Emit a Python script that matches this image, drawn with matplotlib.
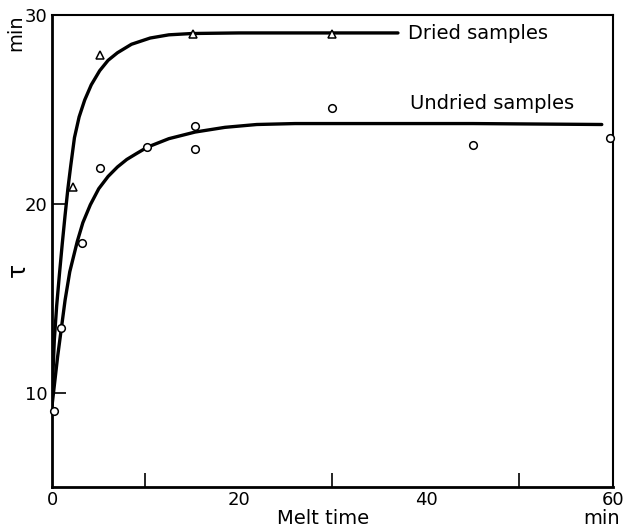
import numpy as np
import matplotlib
matplotlib.use('Agg')
import matplotlib.pyplot as plt

# measured points
dried_x = [2.2, 5.1, 15.1, 30.0]
dried_y = [20.9, 27.9, 29.0, 29.0]
undried_x = [0.2, 1.0, 3.2, 5.1, 10.2, 15.3, 15.3, 30.0, 45.0, 59.7]
undried_y = [9.0, 13.4, 17.9, 21.9, 23.0, 24.1, 22.9, 25.1, 23.1, 23.5]

# hand-drawn curves
dried_curve_x = [0, 0.1, 0.25, 0.5, 0.8, 1.1, 1.4, 1.7, 2.0, 2.4, 2.9, 3.5, 4.2,
                 5.1, 6.0, 7.0, 8.5, 10.5, 12.5, 15, 20, 30, 37]
dried_curve_y = [9.8, 11.0, 12.8, 14.6, 16.3, 17.9, 19.4, 20.8, 22.0, 23.5, 24.6,
                 25.5, 26.3, 27.05, 27.6, 28.0, 28.45, 28.78, 28.95, 29.02, 29.05,
                 29.05, 29.05]
undried_curve_x = [0, 0.3, 0.6, 1.0, 1.4, 1.9, 2.7, 3.3, 4.1, 5.0, 6.0, 7.0, 8.0,
                   9.0, 10.2, 12.5, 15.3, 18.5, 21.9, 26, 34, 45, 58.8]
undried_curve_y = [9.3, 10.6, 11.9, 13.4, 14.9, 16.4, 18.0, 19.0, 19.95, 20.8,
                   21.45, 21.95, 22.35, 22.65, 23.0, 23.45, 23.8, 24.05, 24.2,
                   24.25, 24.25, 24.25, 24.2]

x_major = [0, 20, 40, 60]
x_minor = [10, 30, 50]
y_major = [10, 20, 30]

fig = plt.figure(figsize=(6.25, 5.3), dpi=100)
ax = fig.add_axes([52/625, 1 - 487/530, (613-52)/625, (487-15)/530])

ax.plot(dried_curve_x, dried_curve_y, color='black', lw=2.4,
        solid_capstyle='round', solid_joinstyle='round')
ax.plot(undried_curve_x, undried_curve_y, color='black', lw=2.4,
        solid_capstyle='round', solid_joinstyle='round')
ax.plot(dried_x, dried_y, linestyle='none', marker='^', ms=6, mfc='white',
        mec='black', mew=1.1, clip_on=False, zorder=3)
ax.plot(undried_x, undried_y, linestyle='none', marker='o', ms=5.5, mfc='white',
        mec='black', mew=1.1, clip_on=False, zorder=3)

ax.set_xlim(0, 60)
ax.set_ylim(5, 30)
ax.set_xticks(x_major)
ax.set_xticks(x_minor, minor=True)
ax.set_yticks(y_major)
ax.tick_params(which='both', direction='in', length=10, width=1.2,
               labelsize=13, pad=3)
for t in ax.xaxis.get_major_ticks():
    if t.get_loc() in (0, 60):
        t.tick1line.set_visible(False)
for t in ax.yaxis.get_major_ticks():
    if t.get_loc() == 30:
        t.tick1line.set_visible(False)

for s in ['left', 'bottom']:
    ax.spines[s].set_linewidth(2.0)
for s in ['top', 'right']:
    ax.spines[s].set_linewidth(1.5)

ax.text(38.1, 29.0, 'Dried samples', fontsize=14, va='center', ha='left')
ax.text(38.3, 25.3, 'Undried samples', fontsize=14, va='center', ha='left')

fig.text(16/625, 1 - 33/530, 'min', fontsize=14, rotation=90, ha='center', va='center')
fig.text(18/625, 1 - 270/530, 'τ', fontsize=17, rotation=90, ha='center', va='center')
fig.text(323/625, 1 - 518/530, 'Melt time', fontsize=14, ha='center', va='center')
fig.text(602/625, 1 - 518/530, 'min', fontsize=14, ha='center', va='center')

fig.savefig('out.png', dpi=100)
